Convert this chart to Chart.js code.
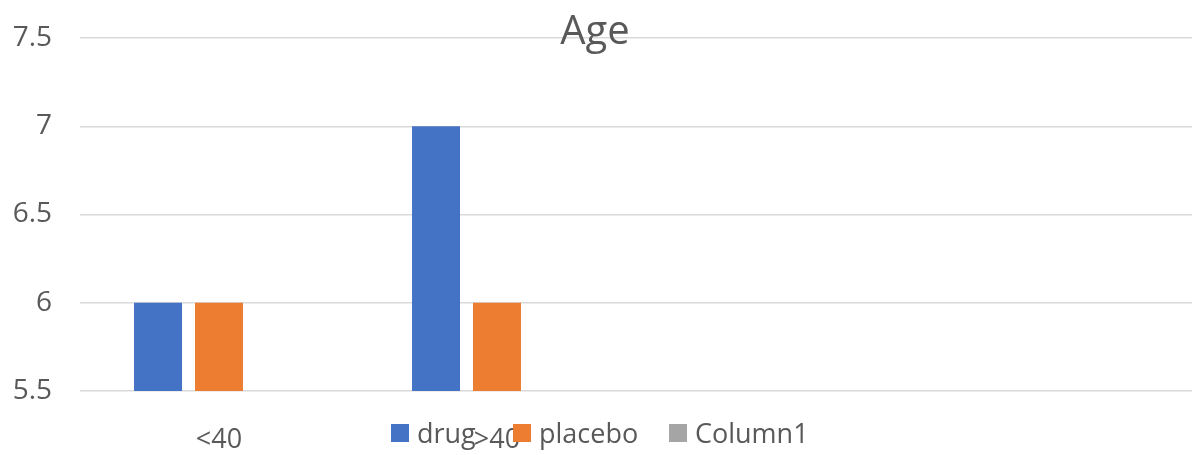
<!DOCTYPE html>
<html>
<head>
<meta charset="utf-8">
<script src="https://cdn.jsdelivr.net/npm/chart.js@4"></script>
<style>
  html, body { margin: 0; padding: 0; background: #fff; }
  #wrap { position: relative; width: 1192px; height: 455px; }
  .item { position: absolute; top: 414px; display: flex; align-items: center;
          font-family: "Open Sans", sans-serif; font-size: 27px; color: #595959; white-space: nowrap; line-height: 38px; }
  .box { width: 18px; height: 18px; margin-right: 8px; }
</style>
</head>
<body>
<div id="wrap">
  <canvas id="c" width="1192" height="455"></canvas>
  <div id="legend"></div>
</div>
<script>
const categories = ["<40", ">40", "", ""];
const drug = [6, 7, null, null];
const placebo = [6, 6, null, null];
const column1 = [null, null, null, null];
const seriesNames = ["drug", "placebo", "Column1"];
const seriesColors = ["#4472C4", "#ED7D31", "#A5A5A5"];
const legendLeft = [391, 513, 669];
const yMin = 5.5, yMax = 7.5, yStep = 0.5;
const chartTitle = "Age";

const titlePlugin = {
  id: 'overTitle',
  afterDraw(chart) {
    const ctx = chart.ctx;
    ctx.save();
    ctx.font = '40px "Open Sans", sans-serif';
    ctx.fillStyle = '#595959';
    ctx.textAlign = 'center';
    ctx.textBaseline = 'alphabetic';
    ctx.fillText(chartTitle, 595, 44);
    ctx.restore();
  }
};

const datasets = [drug, placebo, column1].map((d, i) => ({
  label: seriesNames[i],
  data: d,
  backgroundColor: seriesColors[i],
  borderWidth: 0,
  barPercentage: 0.787,
  categoryPercentage: 0.658
}));

new Chart(document.getElementById('c'), {
  type: 'bar',
  data: { labels: categories, datasets },
  plugins: [titlePlugin],
  options: {
    responsive: false,
    animation: false,
    layout: { padding: { top: 38, right: 0, bottom: 0, left: 0 } },
    plugins: { legend: { display: false }, title: { display: false }, tooltip: { enabled: false } },
    scales: {
      x: {
        afterFit(scale) { scale.height = 64; scale.paddingLeft = 0; scale.paddingRight = 0; },
        grid: { display: false, drawTicks: false },
        border: { display: false },
        ticks: { color: '#595959', font: { family: '"Open Sans", sans-serif', size: 27 }, padding: 33, maxRotation: 0, autoSkip: false }
      },
      y: {
        min: yMin, max: yMax,
        afterFit(scale) { scale.width = 80; scale.paddingTop = 0; scale.paddingBottom = 0; },
        grid: { color: '#d9d9d9', lineWidth: 1.5, drawTicks: false },
        border: { display: false },
        ticks: { stepSize: yStep, color: '#595959', font: { family: '"Open Sans", sans-serif', size: 28 }, padding: 28,
                 callback: v => String(v) }
      }
    }
  }
});

const legend = document.getElementById('legend');
seriesNames.forEach((n, i) => {
  const it = document.createElement('div'); it.className = 'item'; it.style.left = legendLeft[i] + 'px';
  const b = document.createElement('div'); b.className = 'box'; b.style.background = seriesColors[i];
  const t = document.createElement('span'); t.textContent = n;
  it.appendChild(b); it.appendChild(t); legend.appendChild(it);
});
</script>
</body>
</html>
